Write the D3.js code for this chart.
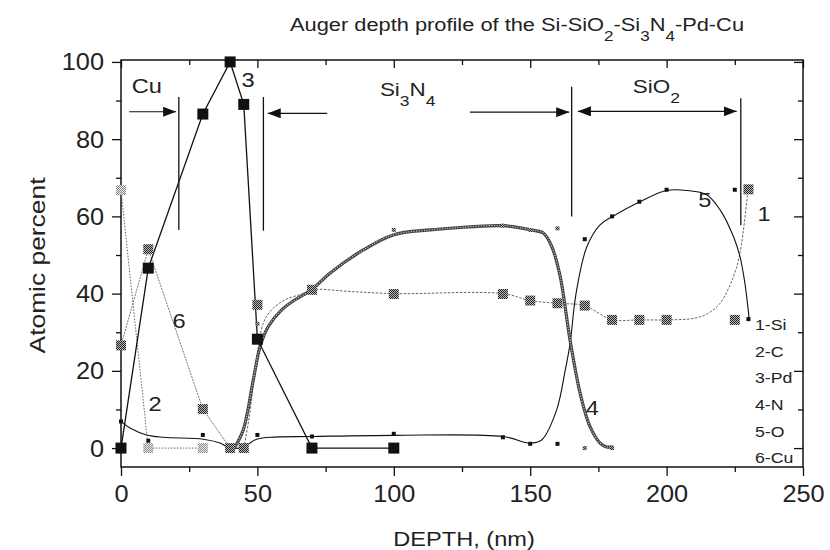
<!DOCTYPE html>
<html>
<head>
<meta charset="utf-8">
<script src="https://cdn.jsdelivr.net/npm/d3@7/dist/d3.min.js"></script>
<style>
  body { margin: 0; background: #fff; }
  text { font-family: "Liberation Sans", Arial, sans-serif; fill: #222; }
</style>
</head>
<body>
<svg width="830" height="550"></svg>
<script>
// ---- data (depth in nm, atomic percent) ----
const pdDepth = [0, 10, 30, 40, 45, 50, 70, 100];
const pdValue = [0, 46.6, 86.5, 100, 89, 28.2, 0, 0];

const cuDepth = [0, 10, 30, 40, 45];
const cuValue = [26.6, 51.5, 10.1, 0, 0];

const cDepth = [0, 10, 30];
const cValue = [66.8, 0, 0];

const siDepth = [50, 70, 100, 140, 150, 160, 170, 180, 190, 200, 225, 230];
const siValue = [37.1, 41, 39.9, 39.9, 38.2, 37.5, 36.9, 33.2, 33.2, 33.2, 33.2, 67];

const nDepth = [50, 100, 140, 150, 160, 170, 180];
const nValue = [32.2, 56.5, 57.6, 56.5, 56.9, 0, 0];

const oDepth = [0, 10, 30, 50, 70, 100, 140, 150, 160, 170, 180, 190, 200, 225, 230];
const oValue = [6.9, 1.9, 3.4, 3.4, 3.0, 3.7, 2.8, 1.1, 1.1, 54.1, 60, 63.8, 66.9, 66.9, 33.4];

// fitted (smoothed) curves as drawn in the figure
const siCurve = [[45,0],[47,8],[49.5,22],[52.2,32.4],[55.2,35.8],[60.1,38.4],[66.2,39.9],[70,41],[85,40.5],[100,40],
  [140,40],[150,38.2],[160,37.5],[170,36.9],[175,35],[180,33.2],[190,33.2],[200,33.2],[210,33.6],[215,34.8],
  [219.6,37.5],[224.5,44.4],[226.9,50.5],[229.9,67.3]];
const nCurve = [[41.5,0],[44.8,4.7],[48.5,17.7],[51,26.3],[54,31.5],[58.9,35.8],[63.8,38.4],[69.9,41],[76.6,45.3],
  [88.8,51.3],[99.8,55.2],[113.3,56.5],[121.8,57],[139.9,57.6],[150.3,56.5],[154.8,55.7],[157.9,52.2],[161,44.4],
  [164.6,28],[168.3,14.2],[171.9,5.6],[175.6,1.3],[178,0.3],[180.5,0.3]];
const oCurve = [[0,6.9],[3.3,5.2],[9.4,3.4],[15.5,2.8],[30.2,2.3],[36.3,1.3],[40,0],[44.8,0.3],[49.7,2.3],[54.6,2.8],
  [70,3],[100,3.3],[140,3],[150,1.3],[154.2,2.1],[159.7,9.9],[162.8,20],[164.6,27],[166.8,40],[170.7,52],
  [175.6,57.8],[180.5,60.1],[190.2,63.8],[200,66.7],[207.4,66.7],[214.7,65.6],[219.6,61.7],[224.5,54.8],
  [226.9,49.6],[228.7,42.7],[230.3,33.2]];

const xTicks = [0, 50, 100, 150, 200, 250];
const yTicks = [0, 20, 40, 60, 80, 100];
const legendItems = ['1-Si', '2-C', '3-Pd', '4-N', '5-O', '6-Cu'];

// layer boundaries [depth, from %, to %] and arrows [x1, x2, y, double?]
const boundaries = [[21.2, 90.9, 56.5], [52.2, 90.9, 56.3], [165.2, 93.6, 60], [227.2, 90.6, 57.7]];
const arrows = [[3, 20.2, 87.1, false], [75.6, 53.8, 86.7, false], [127.9, 164.3, 87, false], [167.5, 225.7, 87.2, true]];
const curveLabels = [['3', 46.6, 93.6], ['6', 21.3, 31.1], ['2', 12.5, 9.5], ['4', 172.8, 8.6], ['5', 214, 62.4], ['1', 235.7, 58.9]];

// ---- chart ----
const svg = d3.select('svg');
const mLeft = 121, mRight = 803, mTop = 60, mBottom = 467;
const x = d3.scaleLinear().domain([0, 250]).range([mLeft, mRight]);
const y = d3.scaleLinear().domain([-4.9, 100.5]).range([mBottom, mTop]);
const WIDE = 1.18; // lettering in the figure is stretched sideways

const defs = svg.append('defs');
function checker(id, bg, fg) {
  const p = defs.append('pattern').attr('id', id).attr('patternUnits', 'userSpaceOnUse')
    .attr('width', 2).attr('height', 2);
  p.append('rect').attr('width', 2).attr('height', 2).attr('fill', bg);
  p.append('rect').attr('width', 1).attr('height', 1).attr('fill', fg);
  p.append('rect').attr('x', 1).attr('y', 1).attr('width', 1).attr('height', 1).attr('fill', fg);
}
checker('chkDark', '#bbb', '#222');
checker('chkLight', '#eee', '#888');
defs.append('marker').attr('id', 'arr').attr('viewBox', '0 0 13 10').attr('refX', 13).attr('refY', 5)
  .attr('markerUnits', 'userSpaceOnUse').attr('markerWidth', 13).attr('markerHeight', 10).attr('orient', 'auto-start-reverse')
  .append('path').attr('d', 'M0,0L13,5L0,10Z').attr('fill', '#111');

// text placed at (px, py), widened
function label(px, py, size, anchor) {
  return svg.append('text').attr('transform', `translate(${px},${py}) scale(${WIDE},1)`)
    .attr('text-anchor', anchor || 'start').style('font-size', size + 'px');
}
function subText(sel, parts, size, drop) {
  let low = false;
  parts.forEach(([t, sub]) => {
    const dy = sub ? (low ? 0 : drop) : (low ? -drop : 0);
    sel.append('tspan').attr('dy', dy).style('font-size', sub ? (size * 0.78) + 'px' : size + 'px').text(t);
    low = !!sub;
  });
}

// axes
const axisStyle = g => {
  g.select('.domain').remove();
  g.selectAll('line').attr('stroke', '#111').attr('stroke-width', 1.3);
};
const xMinor = d3.range(25, 250, 50), yMinor = d3.range(10, 100, 20);

svg.append('g').attr('transform', `translate(0,${mBottom})`)
  .call(d3.axisBottom(x).tickValues(xTicks).tickSize(9).tickFormat('')).call(axisStyle)
  .selectAll('.tick').append('text').attr('transform', `translate(0,35) scale(1.1,1)`)
  .attr('text-anchor', 'middle').style('font-size', '23px').text(d => d);
svg.append('g').attr('transform', `translate(0,${mBottom})`)
  .call(d3.axisBottom(x).tickValues(xMinor).tickSize(5).tickFormat('')).call(axisStyle);
svg.append('g').attr('transform', `translate(${mLeft},0)`)
  .call(d3.axisLeft(y).tickValues(yTicks).tickSize(9).tickFormat('')).call(axisStyle)
  .selectAll('.tick').append('text').attr('transform', `translate(-17,8) scale(1.1,1)`)
  .attr('text-anchor', 'end').style('font-size', '23px').text(d => d);
svg.append('g').attr('transform', `translate(${mLeft},0)`)
  .call(d3.axisLeft(y).tickValues(yMinor).tickSize(5).tickFormat('')).call(axisStyle);
svg.append('g').attr('transform', `translate(0,${mTop})`)
  .call(d3.axisTop(x).tickValues(xTicks).tickSize(-8).tickFormat('')).call(axisStyle);
svg.append('g').attr('transform', `translate(0,${mTop})`)
  .call(d3.axisTop(x).tickValues(xMinor).tickSize(-5).tickFormat('')).call(axisStyle);
svg.append('g').attr('transform', `translate(${mRight},0)`)
  .call(d3.axisRight(y).tickValues(yTicks).tickSize(-9).tickFormat('')).call(axisStyle);
svg.append('g').attr('transform', `translate(${mRight},0)`)
  .call(d3.axisRight(y).tickValues(yMinor).tickSize(-5).tickFormat('')).call(axisStyle);
svg.append('rect').attr('x', mLeft).attr('y', mTop).attr('width', mRight - mLeft).attr('height', mBottom - mTop)
  .attr('fill', 'none').attr('stroke', '#111').attr('stroke-width', 1.5);

// axis titles and title
label((mLeft + mRight) / 2 + 2, 546, 20, 'middle').text('DEPTH, (nm)');
svg.append('text').attr('transform', `translate(45,${(mTop + mBottom) / 2 + 2}) rotate(-90) scale(1.2,1)`)
  .attr('text-anchor', 'middle').style('font-size', '22px').text('Atomic percent');

const title = label(290, 31, 18.5);
subText(title, [['Auger depth profile of the Si-SiO'], ['2', 1], ['-Si'], ['3', 1], ['N'], ['4', 1], ['-Pd-Cu']], 18.5, 10);

// lines
const line = d3.line().x(d => x(d[0])).y(d => y(d[1]));
const smooth = d3.line().x(d => x(d[0])).y(d => y(d[1])).curve(d3.curveCatmullRom.alpha(0.5));
const zip = (a, b) => a.map((v, i) => [v, b[i]]);

svg.append('path').attr('d', line(zip(cDepth, cValue))).attr('fill', 'none')
  .attr('stroke', '#666').attr('stroke-width', 1).attr('stroke-dasharray', '1.5 1.5');
svg.append('path').attr('d', line(zip(cuDepth, cuValue))).attr('fill', 'none')
  .attr('stroke', '#777').attr('stroke-width', 1).attr('stroke-dasharray', '2 1');
svg.append('path').attr('d', smooth(siCurve)).attr('fill', 'none')
  .attr('stroke', '#555').attr('stroke-width', 0.9).attr('stroke-dasharray', '2.5 1.5');
svg.append('path').attr('d', smooth(oCurve)).attr('fill', 'none').attr('stroke', '#111').attr('stroke-width', 1.1);
svg.append('path').attr('d', smooth(nCurve)).attr('fill', 'none').attr('stroke', '#444').attr('stroke-width', 3.2);
svg.append('path').attr('d', smooth(nCurve)).attr('fill', 'none').attr('stroke', '#ddd').attr('stroke-width', 1.1)
  .attr('stroke-dasharray', '1 1.6');
svg.append('path').attr('d', line(zip(pdDepth, pdValue))).attr('fill', 'none').attr('stroke', '#111').attr('stroke-width', 1.3);

// markers
function squares(depths, values, size, fill) {
  svg.append('g').selectAll('rect').data(zip(depths, values)).join('rect')
    .attr('x', d => x(d[0]) - size / 2).attr('y', d => y(d[1]) - size / 2)
    .attr('width', size).attr('height', size).attr('fill', fill);
}
squares(cDepth, cValue, 10, 'url(#chkLight)');
squares(cuDepth, cuValue, 10, 'url(#chkDark)');
squares(siDepth, siValue, 10, 'url(#chkDark)');
squares(nDepth, nValue, 4, 'url(#chkDark)');
squares(oDepth, oValue, 4, '#111');
squares(pdDepth, pdValue, 11, '#111');

// layer boundaries and arrows
svg.append('g').selectAll('line').data(boundaries).join('line')
  .attr('x1', d => x(d[0])).attr('x2', d => x(d[0])).attr('y1', d => y(d[1])).attr('y2', d => y(d[2]))
  .attr('stroke', '#111').attr('stroke-width', 1.3);
svg.append('g').selectAll('line').data(arrows).join('line')
  .attr('x1', d => x(d[0])).attr('x2', d => x(d[1])).attr('y1', d => y(d[2])).attr('y2', d => y(d[2]))
  .attr('stroke', '#111').attr('stroke-width', 1.2)
  .attr('marker-end', 'url(#arr)').attr('marker-start', d => d[3] ? 'url(#arr)' : null);

// layer names
label(x(3.9), y(91.9), 20).text('Cu');
subText(label(x(94.9), y(91.2), 19), [['Si'], ['3', 1], ['N'], ['4', 1]], 19, 10);
subText(label(x(187.6), y(91.9), 19), [['SiO'], ['2', 1]], 19, 10);

// curve numbers
curveLabels.forEach(d => label(x(d[1]), y(d[2]), 20, 'middle').text(d[0]));

// legend
legendItems.forEach((d, i) => label(x(232.4), y(30.6) + i * 26.7, 15).text(d));
</script>
</body>
</html>
